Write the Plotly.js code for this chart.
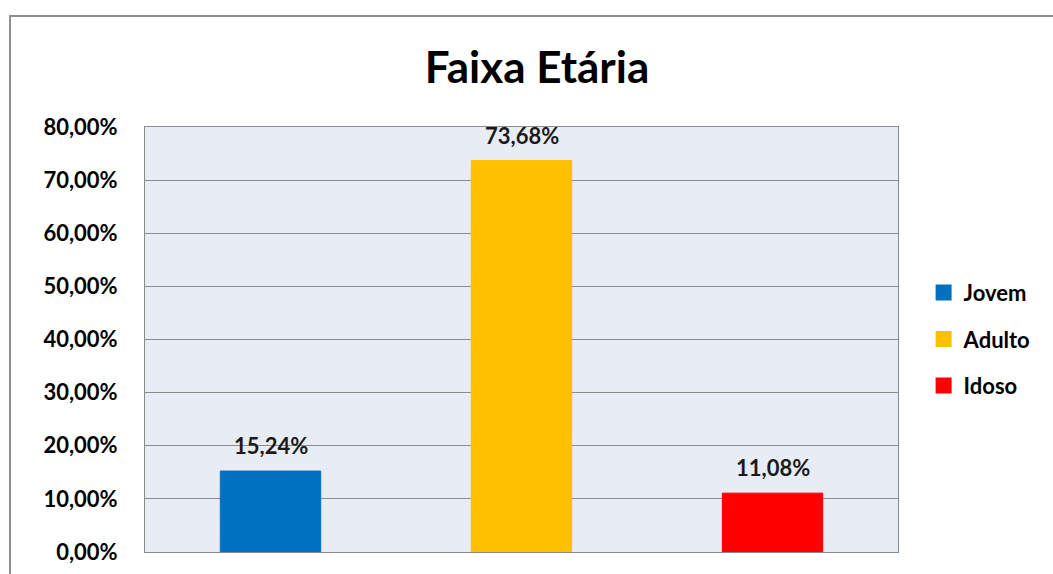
<!DOCTYPE html>
<html>
<head>
<meta charset="utf-8">
<script src="https://cdn.plot.ly/plotly-3.0.1.min.js"></script>
<style>
  html, body { margin: 0; padding: 0; background: #fff; overflow: hidden; }
  #wrap { position: relative; width: 1053px; height: 574px; }
  #chart { position: absolute; left: 0; top: 0; width: 1053px; height: 574px; }
  #frame { position: absolute; left: 9px; top: 15px; width: 1200px; height: 700px;
           border-top: 2px solid #8f8f8f; border-left: 2px solid #8f8f8f; pointer-events: none; }
</style>
</head>
<body>
<div id="wrap">
  <div id="chart"></div>
  <div id="frame"></div>
</div>
<script>
const chartTitle = "Faixa Etária";
const categories = ["Jovem", "Adulto", "Idoso"];
const values = [0.1524, 0.7368, 0.1108];
const colors = ["#0070C0", "#FFC000", "#FF0000"];
const yTicks = [0, 0.1, 0.2, 0.3, 0.4, 0.5, 0.6, 0.7, 0.8];

const FONT = "Lato, 'Open Sans', sans-serif";

const traces = categories.map((c, i) => ({
  type: "bar",
  x: [c],
  y: [values[i]],
  name: c,
  legendgroup: c,
  marker: { color: colors[i], line: { color: colors[i], width: 1 } },
  showlegend: false,
  hoverinfo: "skip"
}));

// legend entries (square markers)
categories.forEach((c, i) => {
  traces.push({
    type: "scatter",
    mode: "markers",
    x: [null], y: [null],
    name: c,
    legendgroup: c,
    marker: { symbol: "square", size: 16, color: colors[i] },
    showlegend: true,
    hoverinfo: "skip"
  });
});

const fmt = v => (v * 100).toFixed(2).replace(".", ",") + "%";

const annotations = categories.map((c, i) => ({
  x: c, y: values[i], xref: "x", yref: "y",
  text: "<b>" + fmt(values[i]) + "</b>",
  showarrow: false, yanchor: "bottom", yshift: 10,
  font: { family: FONT, size: 22, color: "#1a1a1a" }
}));

const layout = {
  width: 1053, height: 574,
  margin: { l: 145, r: 155, t: 127, b: 22, pad: 0 },
  paper_bgcolor: "#ffffff",
  plot_bgcolor: "#E8ECF4",
  separators: ", ",
  barmode: "overlay",
  bargap: 0.6,
  title: {
    text: "<b>" + chartTitle + "</b>",
    xref: "container", yref: "container",
    x: 0.51, xanchor: "center", y: 0.883, yanchor: "middle",
    font: { family: FONT, size: 44, color: "#000" }
  },
  xaxis: {
    type: "category",
    categoryarray: categories,
    showticklabels: false,
    showgrid: false,
    zeroline: false,
    showline: true, mirror: true, linecolor: "#8c8c8c", linewidth: 1,
    ticks: ""
  },
  yaxis: {
    range: [0, 0.8],
    tickvals: yTicks,
    tickformat: ".2%",
    showgrid: true, gridcolor: "#8c8c8c", gridwidth: 1,
    zeroline: false,
    showline: true, mirror: true, linecolor: "#8c8c8c", linewidth: 1,
    ticks: "",
    ticklabelstandoff: 22,
    tickfont: { family: FONT, size: 22, color: "#000", weight: "bold" }
  },
  showlegend: true,
  legend: {
    x: 1.034, xanchor: "left", y: 0.501, yanchor: "middle",
    traceorder: "grouped", tracegroupgap: 15,
    font: { family: FONT, size: 22, color: "#000", weight: "bold" },
    bgcolor: "rgba(0,0,0,0)"
  },
  annotations: annotations
};

Plotly.newPlot("chart", traces, layout, { displayModeBar: false, staticPlot: true });
</script>
</body>
</html>
